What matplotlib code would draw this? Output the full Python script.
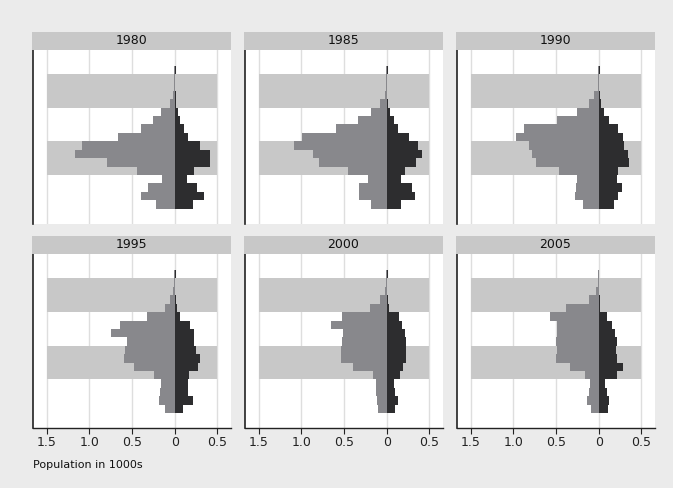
import matplotlib
matplotlib.use("Agg")
import matplotlib.pyplot as plt
from matplotlib.patches import Rectangle

years = ["1980", "1985", "1990", "1995", "2000", "2005"]
ages = [0, 5, 10, 15, 20, 25, 30, 35, 40, 45, 50, 55, 60, 65, 70, 75, 80]

left_1980 = [0.22, 0.39, 0.31, 0.15, 0.44, 0.79, 1.17, 1.09, 0.66, 0.39, 0.26, 0.16, 0.06, 0.02, 0.01, 0.008, 0.003]
right_1980 = [0.21, 0.34, 0.26, 0.14, 0.22, 0.41, 0.41, 0.30, 0.15, 0.11, 0.06, 0.04, 0.02, 0.01, 0.005, 0.004, 0.01]
left_1985 = [0.19, 0.32, 0.32, 0.22, 0.45, 0.79, 0.86, 1.09, 0.99, 0.60, 0.34, 0.18, 0.08, 0.02, 0.006, 0.005, 0.003]
right_1985 = [0.17, 0.33, 0.29, 0.17, 0.21, 0.34, 0.41, 0.36, 0.26, 0.13, 0.08, 0.04, 0.015, 0.008, 0.005, 0.004, 0.01]
left_1990 = [0.18, 0.28, 0.27, 0.25, 0.46, 0.74, 0.78, 0.82, 0.97, 0.87, 0.49, 0.25, 0.11, 0.055, 0.01, 0.005, 0.003]
right_1990 = [0.18, 0.23, 0.27, 0.21, 0.23, 0.35, 0.34, 0.30, 0.28, 0.23, 0.12, 0.06, 0.03, 0.01, 0.005, 0.003, 0.01]
left_1995 = [0.11, 0.18, 0.17, 0.16, 0.24, 0.48, 0.59, 0.58, 0.56, 0.75, 0.64, 0.32, 0.11, 0.05, 0.015, 0.008, 0.003]
right_1995 = [0.10, 0.21, 0.15, 0.16, 0.17, 0.27, 0.29, 0.25, 0.23, 0.22, 0.18, 0.06, 0.025, 0.01, 0.005, 0.003, 0.01]
left_2000 = [0.10, 0.12, 0.13, 0.13, 0.16, 0.40, 0.54, 0.53, 0.52, 0.51, 0.65, 0.52, 0.20, 0.075, 0.015, 0.008, 0.003]
right_2000 = [0.10, 0.13, 0.10, 0.08, 0.15, 0.19, 0.22, 0.23, 0.22, 0.21, 0.18, 0.14, 0.03, 0.012, 0.005, 0.003, 0.01]
left_2005 = [0.09, 0.14, 0.12, 0.10, 0.16, 0.34, 0.50, 0.49, 0.50, 0.49, 0.49, 0.57, 0.38, 0.12, 0.03, 0.01, 0.008]
right_2005 = [0.11, 0.12, 0.10, 0.075, 0.21, 0.28, 0.21, 0.20, 0.21, 0.195, 0.16, 0.095, 0.02, 0.01, 0.005, 0.003, 0.0]

left_series = [left_1980, left_1985, left_1990, left_1995, left_2000, left_2005]
right_series = [right_1980, right_1985, right_1990, right_1995, right_2000, right_2005]

band_ranges = [(20, 40), (60, 80)]
xtick_vals = [-1.5, -1.0, -0.5, 0, 0.5]
xtick_labels = ["1.5", "1.0", "0.5", "0", "0.5"]
xlabel_text = "Population in 1000s"

W, H = 673, 488
OUTER = "#ebebeb"
STRIP = "#c8c8c8"
BAND = "#c8c8c8"
LEFTC = "#88888c"
RIGHTC = "#2d2d2f"
GRID = "#dedede"

fig = plt.figure(figsize=(W / 100, H / 100), dpi=100)
fig.patch.set_facecolor(OUTER)

def fr(x0, ytop, w, h):
    return [x0 / W, 1 - (ytop + h) / H, w / W, h / H]

panel_x0 = [33.3, 245.3, 457.3]
panel_w = 198
plot_top = [49.5, 254.0]
plot_h = 174
strip_h = 18

for i, yr in enumerate(years):
    r, c = divmod(i, 3)
    x0 = panel_x0[c]
    yt = plot_top[r]
    ax = fig.add_axes(fr(x0, yt, panel_w, plot_h))
    ax.set_facecolor("white")
    ax.set_xlim(-1.656, 0.662)
    ax.set_ylim(-8.8, 94.5)
    for xv in xtick_vals:
        ax.axvline(xv, color=GRID, lw=1.0, zorder=0)
    for (a0, a1) in band_ranges:
        ax.add_patch(Rectangle((-1.5, a0), 2.0, a1 - a0, facecolor=BAND,
                               edgecolor="none", zorder=1))
    lv = [-v for v in left_series[i]]
    ax.barh(ages, lv, height=5, align="edge", color=LEFTC, edgecolor="none", zorder=2)
    ax.barh(ages, right_series[i], height=5, align="edge", color=RIGHTC, edgecolor="none", zorder=3)
    ax.spines["top"].set_visible(False)
    ax.spines["right"].set_visible(False)
    ax.spines["left"].set_color("#222222")
    ax.spines["left"].set_linewidth(1.2)
    ax.set_yticks([])
    if r == 1:
        ax.spines["bottom"].set_color("#222222")
        ax.spines["bottom"].set_linewidth(1.0)
        ax.set_xticks(xtick_vals)
        ax.set_xticklabels(xtick_labels, fontsize=9, color="#222222")
        ax.tick_params(axis="x", direction="out", length=4, width=0.8, pad=2, colors="#222222")
    else:
        ax.spines["bottom"].set_visible(False)
        ax.set_xticks([])
    # strip
    sax = fig.add_axes(fr(x0 - 1.5, yt - strip_h, panel_w + 1.5, strip_h))
    sax.set_facecolor(STRIP)
    for s in sax.spines.values():
        s.set_visible(False)
    sax.set_xticks([])
    sax.set_yticks([])
    sax.text(0.5, 0.5, yr, ha="center", va="center", fontsize=9, color="#111111",
             transform=sax.transAxes)

fig.text(33 / W, 1 - 465 / H, xlabel_text, ha="left", va="center", fontsize=8, color="#111111")

fig.savefig("out.png", dpi=100, facecolor=fig.get_facecolor())
